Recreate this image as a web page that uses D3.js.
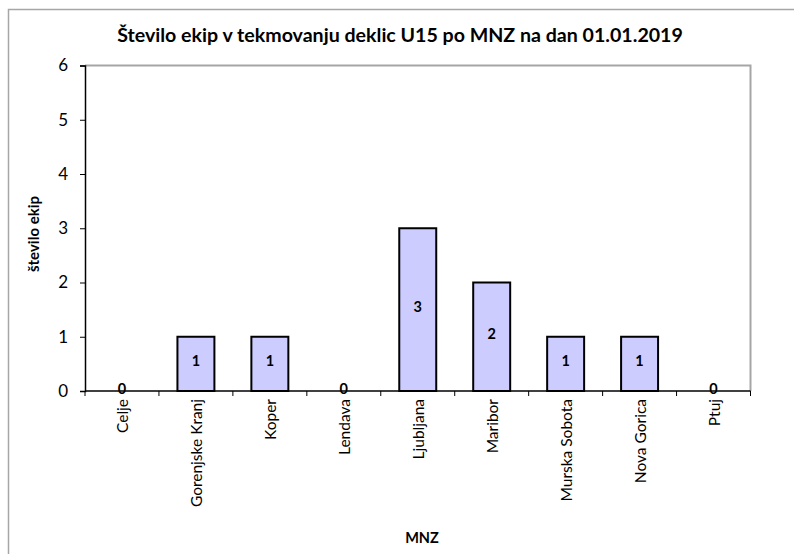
<!DOCTYPE html>
<html><head><meta charset="utf-8">
<script src="https://cdn.jsdelivr.net/npm/d3@7"></script>
<style>body{margin:0;background:#fff;}svg{display:block;font-family:Lato,"Open Sans",sans-serif;}</style>
</head><body>
<svg id="c" width="794" height="554"></svg>
<script>
const categories = ["Celje","Gorenjske Kranj","Koper","Lendava","Ljubljana","Maribor","Murska Sobota","Nova Gorica","Ptuj"];
const values = [0,1,1,0,3,2,1,1,0];
const yTicks = [0,1,2,3,4,5,6];
const title = "Število ekip v tekmovanju deklic U15 po MNZ na dan 01.01.2019";
const yTitle = "število ekip";
const xTitle = "MNZ";

const svg = d3.select("#c");
const L = 85, T = 65.5, R = 750.5, B = 391;
svg.append("rect").attr("x",8.5).attr("y",9.5).attr("width",800).attr("height",600)
  .attr("fill","#fff").attr("stroke","#a6a6a6").attr("stroke-width",1.5);

const x = d3.scaleBand().domain(categories).range([L,R]).paddingInner(0.5).paddingOuter(0.25);
const xb = d3.scaleBand().domain(categories).range([L,R]);
const y = d3.scaleLinear().domain([0,6]).range([B,T]);

svg.append("path").attr("d",`M${L},${T}H${R}V${B}`).attr("fill","none").attr("stroke","#a6a6a6").attr("stroke-width",2);

svg.append("text").attr("x",400).attr("y",42).attr("text-anchor","middle")
  .attr("font-weight","bold").attr("font-size",19.6).attr("fill","#000").text(title);

svg.selectAll(".bar").data(categories.map((c,i)=>({c,v:values[i]}))).join("rect")
  .attr("x",d=>x(d.c)).attr("width",x.bandwidth())
  .attr("y",d=>y(d.v)).attr("height",d=>y(0)-y(d.v))
  .attr("fill","#ccccff").attr("stroke","#000").attr("stroke-width",2)
  .attr("display",d=>d.v>0?null:"none");

const ya = svg.append("g").attr("transform",`translate(${L},0)`)
  .call(d3.axisLeft(y).tickValues(yTicks).tickFormat(d3.format("d")).tickSize(5).tickPadding(12));
ya.select(".domain").attr("stroke","#000").attr("stroke-width",1.5);
ya.selectAll(".tick line").attr("stroke","#000");
ya.selectAll("text").attr("font-size",17).attr("font-family","Lato,sans-serif").attr("fill","#000");

const xa = svg.append("g").attr("transform",`translate(0,${B})`)
  .call(d3.axisBottom(xb).tickSize(0).tickPadding(0));
xa.select(".domain").remove();
xa.selectAll(".tick line").remove();
xa.selectAll(".tick text").attr("font-size",15.5).attr("font-family","Lato,sans-serif").attr("fill","#000")
  .attr("text-anchor","end").attr("transform","translate(6,8) rotate(-90)").attr("dy",0).attr("y",0);
svg.append("line").attr("x1",L).attr("x2",R).attr("y1",B).attr("y2",B).attr("stroke","#000").attr("stroke-width",1.5);
svg.selectAll(".xt").data(categories.concat(["__end"])).join("line")
  .attr("x1",(d,i)=>i<categories.length?xb(d):R).attr("x2",(d,i)=>i<categories.length?xb(d):R)
  .attr("y1",B).attr("y2",B+5).attr("stroke","#000");

svg.selectAll(".vl").data(categories.map((c,i)=>({c,v:values[i]}))).join("text")
  .attr("x",d=>x(d.c)+x.bandwidth()/2)
  .attr("y",d=>d.v>0?(y(d.v)+y(0))/2+2.5:B+2.5)
  .attr("text-anchor","middle").attr("font-weight","bold").attr("font-size",14.5).attr("fill","#000")
  .text(d=>d.v);

svg.append("text").attr("transform",`translate(39,234) rotate(-90)`).attr("text-anchor","middle")
  .attr("font-weight","bold").attr("font-size",15).attr("fill","#000").text(yTitle);
svg.append("text").attr("x",422).attr("y",543).attr("text-anchor","middle")
  .attr("font-weight","bold").attr("font-size",14.5).attr("fill","#000").text(xTitle);
</script>
</body></html>
